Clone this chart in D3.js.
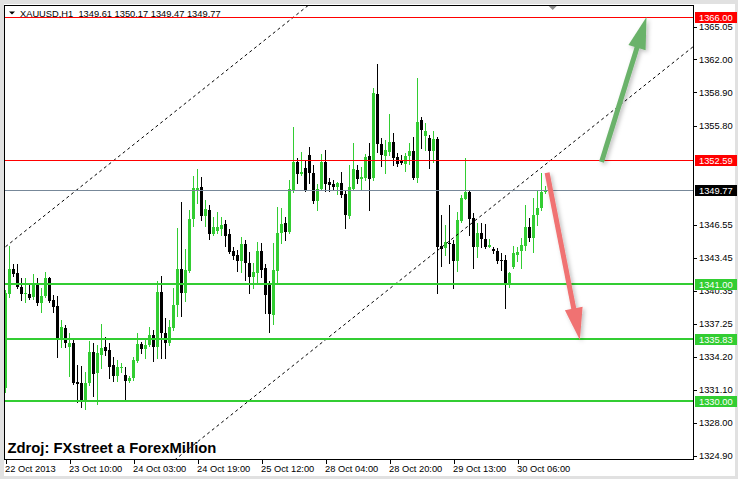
<!DOCTYPE html>
<html><head><meta charset="utf-8">
<script src="https://cdn.jsdelivr.net/npm/d3@7/dist/d3.min.js"></script>
<style>
html,body{margin:0;padding:0;background:#e1e1e1;overflow:hidden}
svg{display:block}
text{font-family:"Liberation Sans",Arial,sans-serif}
</style></head><body>
<svg id="c" width="738" height="479"></svg>
<script>
// ---- data ----
const opens  = [1331.23,1340.03,1342.39,1342.05,1340.68,1340.03,1340.06,1339.80,1340.90,1339.19,1339.90,1341.58,1339.49,1338.93,1335.82,1336.90,1335.13,1335.50,1331.85,1331.76,1330.05,1331.70,1334.66,1332.64,1334.38,1335.13,1334.82,1333.41,1332.38,1333.16,1332.48,1331.94,1332.17,1333.82,1335.38,1334.88,1335.28,1336.22,1335.07,1340.27,1336.38,1335.44,1336.90,1339.03,1342.39,1340.12,1342.24,1347.07,1349.78,1350.09,1347.38,1347.91,1345.64,1345.95,1346.11,1346.58,1345.67,1344.08,1343.70,1343.17,1344.73,1342.98,1341.67,1342.05,1344.08,1342.52,1341.06,1338.09,1342.24,1345.73,1346.73,1345.88,1349.78,1352.36,1351.31,1351.84,1353.06,1351.40,1348.75,1349.88,1352.43,1350.56,1350.35,1350.09,1350.47,1349.41,1347.38,1349.88,1351.66,1350.81,1350.88,1352.97,1350.88,1358.74,1354.06,1352.97,1353.37,1354.25,1352.90,1352.50,1352.22,1352.97,1353.43,1350.93,1356.33,1354.86,1354.62,1353.46,1354.53,1344.55,1344.33,1344.85,1344.73,1343.17,1346.88,1348.94,1349.63,1347.14,1344.42,1345.73,1345.20,1344.48,1344.24,1344.08,1343.24,1343.24,1340.90,1342.61,1343.70,1344.11,1344.55,1346.30,1345.27,1347.45,1348.07,1349.61];
const highs  = [1340.43,1344.57,1342.83,1342.89,1341.52,1341.52,1340.90,1341.90,1341.52,1340.59,1342.09,1341.67,1339.96,1339.90,1337.62,1337.15,1336.38,1335.75,1333.41,1333.32,1332.79,1335.66,1335.44,1335.28,1337.25,1336.00,1335.44,1334.19,1333.88,1333.63,1333.23,1332.38,1334.16,1336.43,1335.59,1335.75,1337.00,1336.69,1341.27,1341.77,1337.78,1337.62,1340.64,1346.20,1348.69,1344.26,1347.87,1351.09,1351.75,1351.03,1348.85,1348.38,1347.23,1347.75,1347.29,1346.98,1346.11,1344.48,1344.17,1345.36,1345.11,1344.01,1342.95,1344.95,1344.85,1342.83,1341.27,1344.80,1348.17,1348.07,1347.29,1350.72,1355.63,1352.78,1353.37,1352.56,1353.84,1352.12,1350.32,1353.12,1353.53,1350.94,1350.72,1350.53,1351.50,1349.78,1352.12,1354.18,1352.12,1351.94,1353.15,1354.15,1359.35,1361.57,1354.62,1354.46,1356.89,1355.09,1353.22,1353.06,1353.22,1354.21,1354.77,1360.26,1356.64,1356.08,1354.93,1355.33,1354.71,1347.45,1346.51,1348.38,1345.11,1347.73,1349.32,1352.75,1349.78,1347.63,1346.67,1346.67,1346.60,1345.20,1344.48,1344.33,1343.86,1343.70,1342.14,1344.55,1344.48,1345.27,1348.38,1347.14,1349.01,1349.78,1351.35,1350.17];
const lows   = [1330.89,1339.80,1341.74,1340.59,1339.49,1339.33,1339.59,1339.59,1339.03,1338.40,1339.77,1339.31,1338.40,1334.19,1335.07,1335.07,1332.41,1331.64,1329.92,1329.51,1329.27,1331.54,1330.54,1329.74,1333.10,1334.35,1332.17,1331.92,1331.94,1332.79,1330.14,1331.82,1332.01,1333.69,1334.56,1334.10,1335.19,1333.82,1334.04,1334.04,1334.07,1335.28,1336.69,1338.00,1338.03,1339.40,1342.11,1346.37,1348.57,1346.98,1346.42,1345.23,1345.57,1345.73,1345.57,1344.55,1343.86,1343.30,1342.24,1342.14,1341.36,1340.18,1340.59,1341.08,1341.65,1338.25,1336.47,1337.25,1341.06,1344.85,1345.11,1345.76,1349.60,1350.47,1351.19,1349.65,1350.47,1348.60,1347.91,1349.78,1349.69,1349.69,1349.78,1349.38,1349.10,1346.20,1347.17,1349.78,1350.41,1349.85,1350.72,1347.91,1350.72,1353.37,1352.03,1351.40,1353.06,1352.12,1352.06,1352.22,1351.59,1352.22,1350.81,1350.56,1353.71,1353.53,1351.81,1352.43,1340.12,1342.67,1343.70,1342.93,1340.64,1342.24,1346.79,1348.90,1345.57,1342.46,1343.54,1344.48,1344.33,1344.45,1343.86,1342.98,1342.30,1338.72,1340.74,1342.46,1343.17,1342.46,1344.17,1345.04,1344.01,1346.51,1347.91,1349.47];
const closes = [1340.12,1342.39,1341.95,1340.68,1340.03,1340.12,1339.71,1341.06,1339.19,1339.87,1341.52,1339.40,1338.87,1335.82,1337.00,1335.44,1335.50,1331.76,1331.64,1330.07,1331.76,1334.66,1332.57,1334.51,1335.03,1334.75,1333.25,1332.38,1333.25,1333.25,1331.94,1332.22,1333.88,1335.38,1334.88,1335.28,1336.22,1335.07,1340.27,1336.38,1335.44,1337.00,1339.03,1342.39,1340.12,1342.30,1347.07,1349.94,1349.94,1347.38,1347.98,1345.64,1346.35,1346.35,1346.48,1345.51,1344.01,1343.64,1343.17,1344.73,1342.98,1341.67,1342.14,1344.08,1342.30,1339.96,1338.18,1342.30,1345.79,1346.60,1345.83,1349.88,1352.43,1351.28,1351.50,1349.69,1351.40,1348.71,1349.88,1352.43,1350.35,1350.25,1350.09,1350.47,1349.32,1347.45,1350.09,1351.75,1350.81,1350.97,1352.90,1350.79,1358.89,1354.06,1353.06,1353.53,1354.30,1352.81,1352.22,1352.28,1352.97,1353.43,1350.93,1356.12,1355.40,1355.30,1353.46,1354.53,1344.48,1344.29,1344.95,1344.70,1343.17,1346.98,1349.01,1349.63,1347.07,1344.48,1345.73,1345.17,1344.48,1344.64,1344.08,1343.17,1343.14,1340.90,1342.00,1343.86,1344.01,1344.64,1346.30,1345.27,1347.45,1348.07,1349.61,1349.77];

const xTickBars   = [0,16,32,48,64,80,96,112,128];
const xTickLabels = ["22 Oct 2013","23 Oct 10:00","24 Oct 03:00","24 Oct 19:00","25 Oct 12:00","28 Oct 04:00","28 Oct 20:00","29 Oct 13:00","30 Oct 06:00"];
// 1352.70 and 1349.60 sit under the coloured level labels and are not visible
const yTicks = [1365.05,1362.00,1358.90,1355.80,1346.55,1343.45,1340.35,1337.25,1334.20,1331.10,1328.00,1324.90];

const supportLevels    = [1341.00,1335.83,1330.00];
const resistanceLevels = [1366.00,1352.59];
const bidLevel = 1349.77;

const channelLowerBars   = [42.8, 171.95];
const channelLowerPrices = [1324.68, 1363.19];
const channelUpperBars   = [40.3, 171.95];
const channelUpperPrices = [1356.49, 1395.75];

const greenArrowBars   = [149.0, 160.25];
const greenArrowPrices = [1352.40, 1365.95];
const redArrowBars     = [135.4, 143.6];
const redArrowPrices   = [1351.40, 1335.75];

const headerText = "XAUUSD,H1  1349.61 1350.17 1349.47 1349.77";
const sourceText = "Zdroj: FXstreet a ForexMillion";

// ---- layout ----
const L = 4.5, R = 693.5, T = 5.5, B = 459.5;
const GREEN = "#32cd32";
const svg = d3.select("#c");

const x = d3.scaleLinear().domain([0, 172]).range([5.5, 693.5]);
const y = d3.scaleLinear().domain([1324.90, 1365.05]).range([456, 26.7]);

// window area
svg.append("rect").attr("x", 4).attr("y", 4).attr("width", 731).attr("height", 472).attr("fill", "#fff");

const defs = svg.append("defs");
defs.append("clipPath").attr("id", "plot").append("rect")
  .attr("x", L + 0.5).attr("y", T + 0.5).attr("width", R - L - 1).attr("height", B - T - 1);
const f = defs.append("filter").attr("id", "sh").attr("x", "-50%").attr("y", "-50%").attr("width", "200%").attr("height", "200%");
f.append("feDropShadow").attr("dx", 2).attr("dy", 2).attr("stdDeviation", 2)
  .attr("flood-color", "#000").attr("flood-opacity", 0.25);

const plot = svg.append("g").attr("clip-path", "url(#plot)");

// candles
const idx = d3.range(opens.length);
const gC = plot.append("g").attr("shape-rendering", "crispEdges");
gC.selectAll("line").data(idx).join("line")
  .attr("x1", i => x(i)).attr("x2", i => x(i))
  .attr("y1", i => Math.round(y(highs[i]))).attr("y2", i => Math.round(y(lows[i])) + 1)
  .attr("stroke", i => closes[i] >= opens[i] ? GREEN : "#000").attr("stroke-width", 1);
gC.selectAll("rect").data(idx).join("rect")
  .attr("x", i => x(i) - 1.5).attr("width", 3)
  .attr("y", i => Math.round(y(Math.max(opens[i], closes[i]))))
  .attr("height", i => Math.max(1, Math.round(y(Math.min(opens[i], closes[i]))) - Math.round(y(Math.max(opens[i], closes[i])))))
  .attr("fill", i => closes[i] >= opens[i] ? GREEN : "#000");

// channel lines (rays extended across the whole plot)
const line = d3.line().x(d => x(d[0])).y(d => y(d[1]));
[[channelLowerBars, channelLowerPrices], [channelUpperBars, channelUpperPrices]].forEach(([b, p]) => {
  const s = (p[1] - p[0]) / (b[1] - b[0]);
  const ext = x.domain().map(k => [k, p[0] + s * (k - b[0])]);
  plot.append("path").attr("d", line(ext)).attr("fill", "none")
    .attr("stroke", "#000").attr("stroke-width", 1).attr("stroke-dasharray", "3,3");
});

// horizontal levels
const gH = plot.append("g").attr("shape-rendering", "crispEdges");
gH.selectAll(".sup").data(supportLevels).join("line").attr("class", "sup")
  .attr("x1", L).attr("x2", R).attr("y1", d => Math.round(y(d))).attr("y2", d => Math.round(y(d)))
  .attr("stroke", GREEN).attr("stroke-width", 2);
gH.selectAll(".res").data(resistanceLevels).join("line").attr("class", "res")
  .attr("x1", L).attr("x2", R).attr("y1", d => Math.round(y(d)) + 0.5).attr("y2", d => Math.round(y(d)) + 0.5)
  .attr("stroke", "#ff0000").attr("stroke-width", 1);
gH.append("line").attr("x1", L).attr("x2", R)
  .attr("y1", Math.round(y(bidLevel)) + 0.5).attr("y2", Math.round(y(bidLevel)) + 0.5)
  .attr("stroke", "#778899").attr("stroke-width", 1);

// arrows
function arrow(bars, prices, color) {
  const x0 = x(bars[0]), y0 = y(prices[0]), x1 = x(bars[1]), y1 = y(prices[1]);
  const dx = x1 - x0, dy = y1 - y0, len = Math.hypot(dx, dy);
  const ux = dx / len, uy = dy / len, hl = 32, hw = 9;
  const bx = x1 - ux * hl, by = y1 - uy * hl;
  const g = svg.append("g").attr("filter", "url(#sh)");
  g.append("line").attr("x1", x0).attr("y1", y0).attr("x2", bx + ux * 2).attr("y2", by + uy * 2)
    .attr("stroke", color).attr("stroke-width", 5);
  g.append("path").attr("d", `M${x1},${y1}L${bx - uy * hw},${by + ux * hw}L${bx + uy * hw},${by - ux * hw}Z`)
    .attr("fill", color);
}
arrow(greenArrowBars, greenArrowPrices, "#6ab26a");
arrow(redArrowBars, redArrowPrices, "#f07272");

// frame
svg.append("rect").attr("x", L).attr("y", T).attr("width", R - L).attr("height", B - T)
  .attr("fill", "none").attr("stroke", "#000").attr("stroke-width", 1).attr("shape-rendering", "crispEdges");

// right price axis
const yAxis = d3.axisRight(y).tickValues(yTicks).tickFormat(d3.format(".2f")).tickSize(3).tickPadding(2.5);
const gy = svg.append("g").attr("transform", `translate(${R},0)`).call(yAxis);
gy.select(".domain").remove();
gy.selectAll("line").attr("stroke", "#000").attr("shape-rendering", "crispEdges");
gy.selectAll("text").attr("font-size", "9.3px").attr("fill", "#000").attr("font-family", "Liberation Sans, Arial, sans-serif");

// bottom time axis
const xAxis = d3.axisBottom(x).tickValues(xTickBars).tickFormat((d, i) => xTickLabels[i]).tickSize(4).tickPadding(2);
const gx = svg.append("g").attr("transform", `translate(0,${B})`).call(xAxis);
gx.select(".domain").remove();
gx.selectAll("line").attr("stroke", "#000").attr("shape-rendering", "crispEdges");
gx.selectAll("text").attr("text-anchor", "start").attr("dx", "-1").attr("font-size", "9.3px")
  .attr("fill", "#000").attr("font-family", "Liberation Sans, Arial, sans-serif");

// level labels on the price axis
const labels = [
  ...resistanceLevels.map(v => ({ v, bg: "#ff0000" })),
  { v: bidLevel, bg: "#000" },
  ...supportLevels.map(v => ({ v, bg: GREEN }))
];
const gl = svg.append("g");
labels.forEach(l => {
  const yy = Math.round(y(l.v));
  gl.append("rect").attr("x", R + 1).attr("y", yy - 5).attr("width", 42).attr("height", 11).attr("fill", l.bg)
    .attr("shape-rendering", "crispEdges");
  gl.append("text").attr("x", R + 5.5).attr("y", yy + 4).attr("font-size", "9.3px").attr("fill", "#fff")
    .text(d3.format(".2f")(l.v));
});

// header
svg.append("path").attr("d", "M9,11.5L15,11.5L12,14.5Z").attr("fill", "#000");
svg.append("text").attr("x", 20).attr("y", 16.5).attr("font-size", "9.3px").attr("fill", "#000")
  .attr("xml:space", "preserve").style("white-space", "pre").text(headerText);
// chart shift marker
svg.append("path").attr("d", `M${x(135.8)},${T + 0.5}L${x(137.8)},${T + 0.5}L${x(136.8)},${T + 4.5}Z`).attr("fill", "#8c8c8c");

// source note
svg.append("text").attr("x", 7.5).attr("y", 453).attr("font-size", "14.8px").attr("font-weight", "bold")
  .attr("fill", "#000").text(sourceText);
</script>
</body></html>
